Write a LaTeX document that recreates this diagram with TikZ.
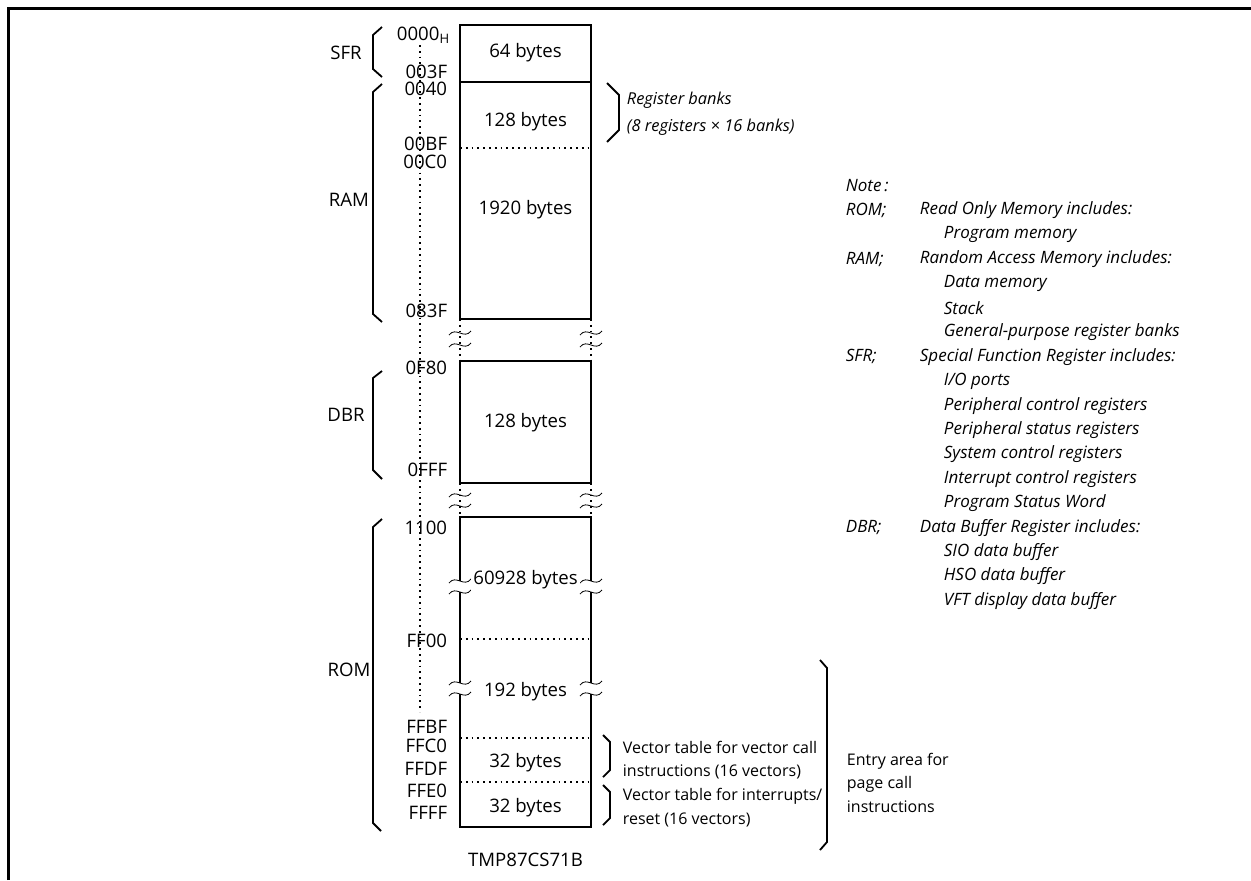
\documentclass[tikz,border=0pt]{standalone}
\usepackage{fontspec}
\setmainfont{Open Sans}
\newcommand{\tld}[2]{\draw[thin] (#1-11,#2+2) .. controls (#1-4,#2-7) and (#1+4,#2+7) .. (#1+11,#2-2);}
\begin{document}
\begin{tikzpicture}[x=0.5pt,y=-0.5pt,line width=0.9pt,
  lbl/.style={font=\fontsize{9.3}{11}\selectfont},
  adr/.style={font=\fontsize{9.3}{11}\selectfont,anchor=east,inner sep=0pt},
  note/.style={font=\fontsize{8.5}{10}\selectfont\itshape,anchor=west,inner sep=0pt},
  bank/.style={font=\fontsize{8.2}{10}\selectfont\itshape,anchor=west,inner sep=0pt},
  vec/.style={font=\fontsize{8}{10}\selectfont,anchor=west,inner sep=0pt}]
\useasboundingbox (0,0) rectangle (1251,880);
\draw[line width=1.3pt] (8.5,880) -- (8.5,8.5) -- (1251,8.5);
% address line
\draw[dotted] (420,45) -- (420,712);
% memory boxes
\draw (460,25) rectangle (591,82);
\draw (460,82) rectangle (591,319);
\draw[dotted] (460,148) -- (591,148);
\draw (460,361) rectangle (591,483);
\draw[dotted] (460,319) -- (460,361) (591,319) -- (591,361);
\draw[dotted] (460,483) -- (460,517) (591,483) -- (591,517);
\draw (460,581) -- (460,517) -- (591,517) -- (591,581);
\draw (460,592) -- (460,683) (591,592) -- (591,683);
\draw (460,694) -- (460,827) -- (591,827) -- (591,694);
\draw[dotted] (460,639) -- (591,639);
\draw[dotted] (460,738) -- (591,738);
\draw[dotted] (460,782) -- (591,782);
% break marks
\foreach \bx in {460,591}{
  \tld{\bx}{333}\tld{\bx}{345}
  \tld{\bx}{495}\tld{\bx}{506}
  \tld{\bx}{581}\tld{\bx}{592}
  \tld{\bx}{683}\tld{\bx}{694}
}
% sizes
\node[lbl] (sfrsize) at (525.5,53) {64 bytes};
\node[lbl] (banksize) at (525.5,122) {128 bytes};
\node[lbl] (ramsize) at (525.5,210) {1920 bytes};
\node[lbl] (dbrsize) at (525.5,423) {128 bytes};
\node[lbl,fill=white,inner sep=1pt] (romsize) at (525.5,580) {60928 bytes};
\node[lbl,fill=white,inner sep=1pt] (pagesize) at (525.5,692) {192 bytes};
\node[lbl] (vcsize) at (525.5,763) {32 bytes};
\node[lbl] (intsize) at (525.5,808) {32 bytes};
\node[lbl] (chip) at (525.5,860) {TMP87CS71B};
% addresses
\node[adr] (a0000) at (451,35) {0000\textsubscript{H}};
\node[adr] (a003F) at (448,72) {003F};
\node[adr] (a0040) at (448,89) {0040};
\node[adr] (a00BF) at (448,144) {00BF};
\node[adr] (a00C0) at (448,162) {00C0};
\node[adr] (a083F) at (448,311) {083F};
\node[adr] (a0F80) at (448,368) {0F80};
\node[adr] (a0FFF) at (448,470) {0FFF};
\node[adr] (a1100) at (448,528) {1100};
\node[adr] (aFF00) at (448,641) {FF00};
\node[adr] (aFFBF) at (448,727) {FFBF};
\node[adr] (aFFC0) at (448,746) {FFC0};
\node[adr] (aFFDF) at (448,769) {FFDF};
\node[adr] (aFFE0) at (448,791) {FFE0};
\node[adr] (aFFFF) at (448,813) {FFFF};
% areas
\node[lbl] (sfr) at (346,53) {SFR};
\node[lbl] (ram) at (349,200) {RAM};
\node[lbl] (dbr) at (346,415) {DBR};
\node[lbl] (rom) at (349,670) {ROM};
\draw (382,27) -- (373,35) -- (373,69) -- (382,77);
\draw (382,84) -- (373,92) -- (373,314) -- (382,322);
\draw (382,371) -- (373,378) -- (373,470) -- (382,479);
\draw (382,519) -- (373,527) -- (373,823) -- (381,831);
% right side
\draw (607,83) -- (619,95) -- (619,130) -- (607,142);
\node[bank] (banks1) at (626,100) {Register banks};
\node[bank] (banks2) at (626,127) {(8 registers × 16 banks)};
\draw (603,735) -- (610,742) -- (610,770) -- (603,777);
\draw (603,785) -- (610,792) -- (610,818) -- (603,825);
\node[vec] (vc1) at (622,747) {Vector table for vector call};
\node[vec] (vc2) at (622,772) {instructions (16 vectors)};
\node[vec] (vi1) at (622,796) {Vector table for interrupts/};
\node[vec] (vi2) at (622,820) {reset (16 vectors)};
\draw (820,660) -- (827,668) -- (827,842) -- (820,850);
\node[vec] (entry1) at (846,761) {Entry area for};
\node[vec] (entry2) at (846,784) {page call};
\node[vec] (entry3) at (846,807) {instructions};
% notes
\foreach \k/\tx in {0/{Note\,:},1/ROM;,3/RAM;,7/SFR;,14/DBR;}
  \node[note] (n\k) at (845,186+24.4*\k) {\tx};
\foreach \k/\tx in {1/Read Only Memory includes:,3/Random Access Memory includes:,
    7/Special Function Register includes:,14/Data Buffer Register includes:}
  \node[note] (d\k) at (919,186+24.4*\k) {\tx};
\foreach \k/\tx in {2/Program memory,4/Data memory,5/Stack,6/General-purpose register banks,
    8/{I/O ports},9/Peripheral control registers,10/Peripheral status registers,
    11/System control registers,12/Interrupt control registers,13/Program Status Word,
    15/SIO data buffer,16/HSO data buffer,17/VFT display data buffer}
  \node[note] (i\k) at (943,186+24.4*\k) {\tx};
\end{tikzpicture}
\end{document}
